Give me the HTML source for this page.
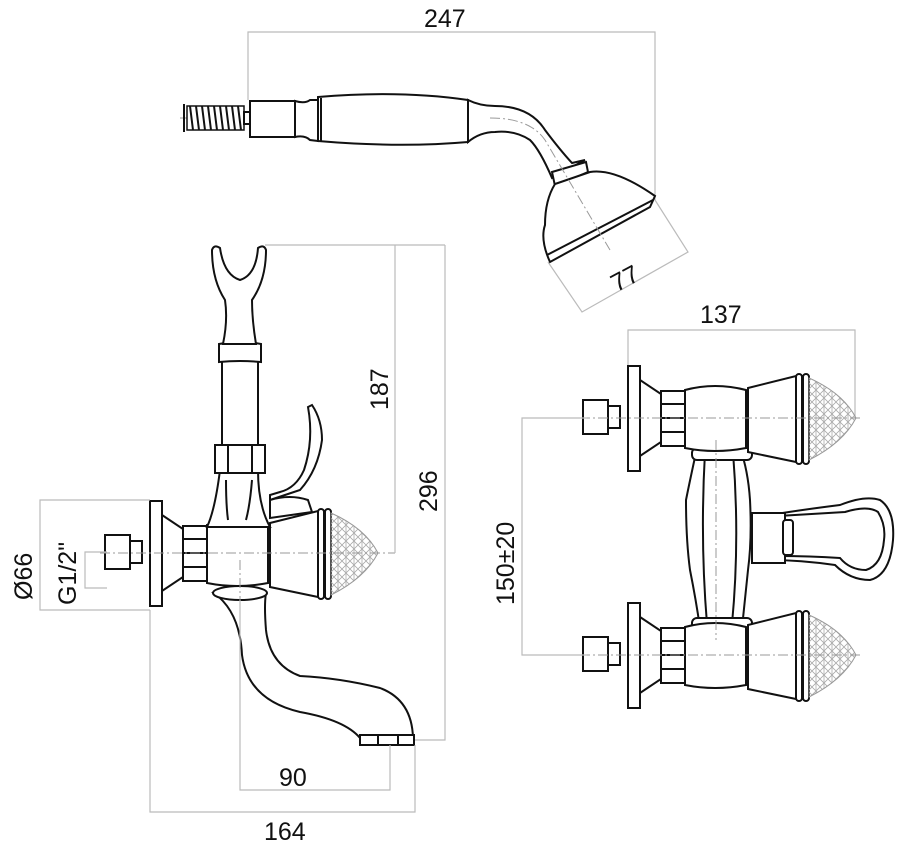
<!DOCTYPE html>
<html><head><meta charset="utf-8"><style>
html,body{margin:0;padding:0;background:#fff;}
svg{display:block}
text{font-family:"Liberation Sans",sans-serif;font-size:25px;fill:#111}
.o{fill:#fff;stroke:#111;stroke-width:2}
.l{fill:none;stroke:#111;stroke-width:2}
.d{fill:none;stroke:#bbb;stroke-width:1.2}
.c{fill:none;stroke:#999;stroke-width:1;stroke-dasharray:10 3 2 3}
</style></head><body>
<svg width="900" height="858" viewBox="0 0 900 858">
<defs>
<pattern id="m" width="8" height="8" patternUnits="userSpaceOnUse">
<path d="M0 0L8 8M8 0L0 8M4 0V8" stroke="#aaa" stroke-width="0.8" fill="none"/>
</pattern>
<g id="valve">
<rect class="o" x="-45" y="-18" width="25" height="34"/>
<path class="o" d="M-20 -12 H-8 V10 H-20 Z"/>
<rect class="o" x="0" y="-52" width="12" height="105"/>
<path class="o" d="M12 -38 L33 -24 V24 L12 38 Z"/>
<rect class="o" x="33" y="-27" width="24" height="55"/>
<path class="l" d="M33 -14H57M33 0H57M33 14H57"/>
<path class="o" d="M57 -28 Q87 -36 118 -28 V30 Q87 36 57 30 Z"/>
<path class="o" d="M120 -30 L168 -42 V44 L120 34 Z"/>
<rect class="o" x="168" y="-44" width="6" height="90" rx="3"/>
<rect class="o" x="175" y="-44" width="6" height="90" rx="3"/>
<path d="M181 -40 Q215 -25 228 0 Q215 25 181 42 Z" fill="url(#m)" stroke="#999" stroke-width="1"/>
</g>
</defs>

<!-- ===== Top hand shower ===== -->
<path class="d" d="M248 100V32H655V200"/>
<text x="424" y="27">247</text>
<line class="c" x1="180" y1="118" x2="460" y2="118"/>
<rect x="187" y="106" width="57" height="24" fill="#fff" stroke="#111" stroke-width="1.5"/>
<path stroke="#111" stroke-width="2" d="M190 106l3 24M196 106l3 24M202 106l3 24M208 106l3 24M214 106l3 24M220 106l3 24M226 106l3 24M232 106l3 24M238 106l3 24"/>
<path class="l" d="M184 104V132" stroke-width="1"/>
<rect class="o" x="244" y="112" width="7" height="12"/>
<path class="o" d="M250 101H295V137H250Z"/>
<path class="o" d="M295 101Q305 104 310 100L318 100V141L310 140Q305 135 295 137Z"/>
<path class="o" d="M318 97Q400 90 468 100L468 142Q400 148 318 141Z"/>
<line class="l" x1="321" y1="98" x2="321" y2="141"/>
<path class="o" d="M468 100Q480 106 495 106Q530 106 545 130Q560 150 572 163L585 160L552 178Q540 150 530 140Q515 130 495 132Q480 132 468 142Z"/>
<path class="o" d="M552 172L586 162L588 172L555 186Z"/>
<path class="o" d="M555 184L590 172Q615 168 655 196L650 207L550 262Q540 240 545 225Q545 200 555 184Z"/>
<path class="l" d="M547 255L653 200"/>
<path class="c" d="M490 118Q530 118 545 140L610 250"/>
<path class="d" d="M548 262L582 312L688 252L655 200"/>
<text x="608" y="286" transform="rotate(-28 625 272)">77</text>

<!-- ===== Left side view ===== -->
<!-- spout -->
<path class="o" d="M214 593Q240 612 242 655Q248 700 300 712Q345 720 360 738H413Q412 700 380 688Q340 678 300 676Q270 665 266 630Q264 605 266 593Z"/>
<ellipse class="o" cx="240" cy="593" rx="27" ry="7"/>
<rect class="o" x="360" y="735" width="54" height="10"/>
<path class="l" d="M378 735V745M398 735V745"/>
<g transform="translate(150,553)"><use href="#valve"/></g>
<!-- riser -->
<path class="o" d="M220 470Q215 510 207 527H270Q258 505 258 470Z"/>
<path class="l" d="M226 480Q226 505 228 520M252 480Q250 505 246 520"/>
<rect class="o" x="215" y="445" width="50" height="28"/>
<path class="l" d="M228 445V473M252 445V473"/>
<path class="o" d="M222 360H258V445H222Z"/>
<path class="o" d="M219 344Q240 340 261 344V362Q240 360 219 362Z"/>
<path class="o" d="M223 344Q228 320 225 300Q212 280 212 250Q214 244 220 248Q224 275 240 280Q256 275 258 248Q264 244 266 250Q266 280 252 300Q252 320 256 344Z"/>
<!-- lever -->
<path class="o" d="M270 500L300 490Q318 470 322 440Q322 420 312 405L308 407Q314 440 304 470Q296 488 280 492L270 495Z"/>
<path class="o" d="M270 500Q290 494 308 500L312 512L270 518Z"/>
<!-- centerlines & dims -->
<line class="c" x1="100" y1="553" x2="395" y2="553"/>
<line class="c" x1="240" y1="560" x2="240" y2="690"/>
<path class="d" d="M265 245H445M395 245V553M445 245V740H415"/>
<path class="d" d="M240 600V790H390V745M150 610V812H415V745"/>
<text x="0" y="0" transform="translate(388,410) rotate(-90)">187</text>
<text x="0" y="0" transform="translate(437,512) rotate(-90)">296</text>
<text x="279" y="786">90</text>
<text x="264" y="840">164</text>
<path class="d" d="M150 500H40V610H150M107 552H85V588H107"/>
<text x="0" y="0" transform="translate(32,600) rotate(-90)">Ø66</text>
<text x="0" y="0" transform="translate(76,605) rotate(-90)">G1/2"</text>

<!-- ===== Right front view ===== -->
<path class="d" d="M628 365V330H855V418"/>
<text x="700" y="323">137</text>
<!-- lever loop -->
<path class="o" d="M770 515Q800 510 840 505Q865 495 880 500Q895 510 893 540Q890 575 870 580Q850 580 835 565Q800 560 770 560Z"/>
<path class="o" d="M778 516Q810 514 845 512Q868 505 878 512Q886 525 884 540Q882 565 866 570Q850 570 840 558Q810 556 778 556Z"/>
<!-- column -->
<path class="o" d="M697 448Q690 480 686 500Q686 540 690 570Q696 600 700 628H742Q745 600 748 570Q752 540 750 500Q748 470 740 448Z"/>
<path class="l" d="M705 452Q700 540 707 624M733 452Q740 540 732 624"/>
<rect class="o" x="692" y="448" width="60" height="12" rx="5"/>
<rect class="o" x="692" y="618" width="60" height="12" rx="5"/>
<path class="o" d="M752 513H785V563H752Z"/>
<rect class="o" x="783" y="520" width="10" height="35" rx="3"/>
<g transform="translate(628,418)"><use href="#valve"/></g>
<g transform="translate(628,655)"><use href="#valve"/></g>
<line class="c" x1="580" y1="418" x2="860" y2="418"/>
<line class="c" x1="580" y1="655" x2="860" y2="655"/>
<line class="c" x1="716" y1="440" x2="716" y2="640"/>
<path class="d" d="M587 418H522V655H587"/>
<text x="0" y="0" transform="translate(514,605) rotate(-90)">150±20</text>
</svg>
</body></html>
